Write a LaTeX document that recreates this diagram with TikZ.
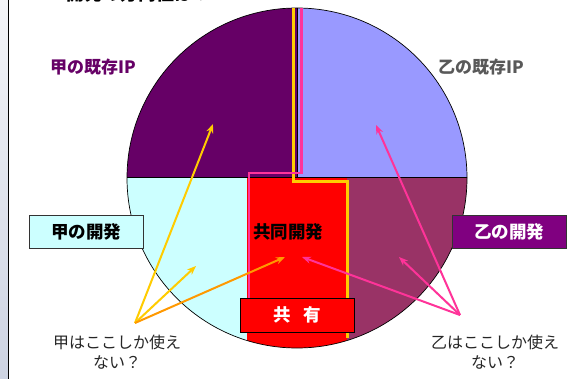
\documentclass[tikz,border=0pt]{standalone}
\usepackage{fontspec}
\newfontfamily\jp{Noto Sans CJK JP}
\usetikzlibrary{arrows.meta}
\definecolor{kopurple}{HTML}{660066}
\definecolor{otsulav}{HTML}{9999FF}
\definecolor{kocyan}{HTML}{CCFFFF}
\definecolor{otsumag}{HTML}{993366}
\definecolor{boxpurple}{HTML}{800080}
\definecolor{yel}{HTML}{FFCC00}
\definecolor{org}{HTML}{FF9900}
\definecolor{pnk}{HTML}{FF3399}
\definecolor{gtext}{HTML}{595959}
\definecolor{stripa}{HTML}{F4F5F8}
\definecolor{stripb}{HTML}{CDD3E2}
\tikzset{
  lbl/.style={font=\jp\bfseries\fontsize{17}{19}\selectfont, inner sep=0pt},
  boxlbl/.style={draw=black!80, line width=0.8pt, font=\jp\bfseries\fontsize{17.5}{19}\selectfont,
     minimum width=114pt, minimum height=33pt, inner sep=0pt},
  note/.style={font=\jp\fontsize{16}{20}\selectfont, align=center, text=black!85, inner sep=0pt},
  arr/.style={line width=2pt, -{Stealth[length=9pt,width=7pt]}},
}
\begin{document}
\begin{tikzpicture}[x=1pt,y=-1pt]
\useasboundingbox (0,0) rectangle (575,379);
\clip (0,0) rectangle (575,379);
\fill[white] (0,0) rectangle (575,379);
% left strip
\shade[top color=stripa, bottom color=stripb] (0,0) rectangle (8,379);
\draw[line width=1pt] (8.5,0) -- (8.5,379);
% cut-off title (only its lower edge shows)
\node[font=\jp\bfseries\fontsize{18}{20}\selectfont, anchor=south] (title) at (138,6) {開発の方向性は？};
% pie
\begin{scope}
  \clip (297,178) circle[radius=170pt];
  \fill[kopurple] (120,0) rectangle (297,177);
  \fill[otsulav] (297,0) rectangle (475,177);
  \fill[kocyan] (120,177) rectangle (247,350);
  \fill[red] (247,177) rectangle (347,350);
  \fill[otsumag] (347,177) rectangle (475,350);
  \draw[line width=0.8pt] (297,0) -- (297,177);
  \draw[line width=0.6pt] (120,177) -- (475,177);
\end{scope}
\draw[line width=0.7pt] (297,178) circle[radius=170pt];
% outlines
\coordinate (yt) at (293,8);
\coordinate (yb) at (347,338);
\draw[yel, line width=3pt] (yt) -- (293,182) -- (347,182) -- (yb);
\coordinate (pt) at (301.5,8);
\coordinate (pb) at (249,300);
\draw[pnk, line width=2.5pt] (pt) -- (301.5,173) -- (249,173) -- (pb);
% labels
\node[lbl, text=kopurple] (koip) at (93,67) {甲の既存IP};
\node[lbl, text=gtext] (otip) at (481,67) {乙の既存IP};
\node[boxlbl, fill=kocyan, text=black] (kodev) at (86,231.5) {甲の開発};
\node[boxlbl, fill=boxpurple, text=white] (otdev) at (509,231.5) {乙の開発};
\node[lbl, font=\jp\bfseries\fontsize{17.5}{19}\selectfont] (joint) at (288,232) {共同開発};
\node[draw=black, line width=0.8pt, fill=red, text=white, font=\jp\bfseries\fontsize{17.5}{19}\selectfont,
  minimum width=114pt, minimum height=34pt, inner sep=0pt] (share) at (297,315) {共\hspace{0.7em}有};
\node[note] (konote) at (117,352) {甲はここしか使え\\ない？};
\node[note] (otnote) at (495,352) {乙はここしか使え\\ない？};
% arrows
\coordinate (ka) at (135,323);
\coordinate (kt1) at (213,124);
\coordinate (kt2) at (196,266);
\coordinate (kt3) at (285,257);
\draw[arr, yel] (ka) -- (kt1);
\draw[arr, yel] (ka) -- (kt2);
\draw[arr, org] (ka) -- (kt3);
\coordinate (oa) at (460,315);
\coordinate (ot1) at (376,125);
\coordinate (ot2) at (399,257);
\coordinate (ot3) at (302,257);
\draw[arr, pnk] (oa) -- (ot1);
\draw[arr, pnk] (oa) -- (ot2);
\draw[arr, pnk] (oa) -- (ot3);
\end{tikzpicture}
\end{document}
